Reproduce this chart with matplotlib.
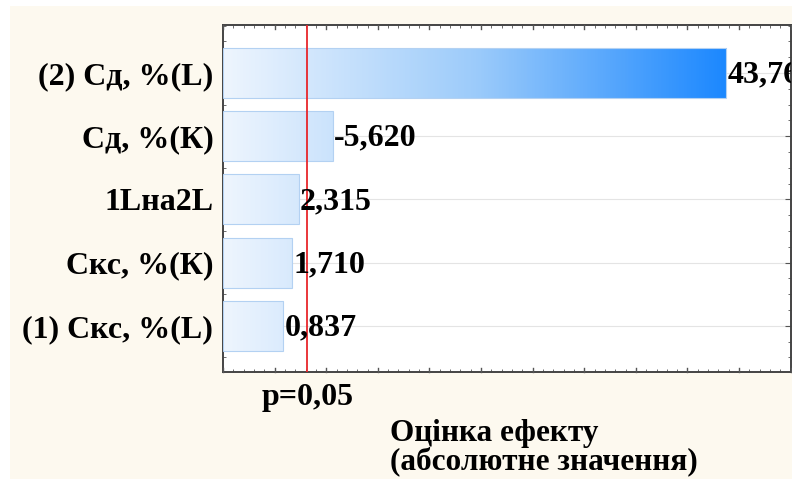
import numpy as np
import matplotlib.pyplot as plt
from matplotlib.colors import LinearSegmentedColormap
from matplotlib.patches import Rectangle
from matplotlib.ticker import MultipleLocator, FixedLocator

# Pareto chart of effects (top to bottom)
factors = ['(2) Сд, %(L)', 'Сд, %(К)', '1Lна2L', 'Скс, %(К)', '(1) Скс, %(L)']
effects = [43.76, -5.620, 2.315, 1.710, 0.837]
t_crit = 3.182          # p=0,05
x_min, x_max = -5, 50

plt.rcParams['font.family'] = ['Liberation Serif', 'DejaVu Serif']
plt.rcParams['font.weight'] = 'bold'

fig = plt.figure(figsize=(7.92, 4.79), dpi=100, facecolor='white')
fig.patches.append(Rectangle((10/792, 0), 1, 1 - 6/479, transform=fig.transFigure,
                             facecolor='#fdf9ef', edgecolor='none', zorder=-10))

ax = fig.add_axes([223/792, 1 - 372/479, (790.7 - 223)/792, (372 - 25)/479])
ax.set_facecolor('white')

pos = np.arange(len(factors))
vals = np.abs(effects)
h = 0.79

cmap = LinearSegmentedColormap.from_list('fill', ['#eef5fe', '#9ccbfa', '#1a87ff'])
grad = np.linspace(x_min, x_max, 512).reshape(1, -1)

bars = ax.barh(pos, vals - x_min, left=x_min, height=h, facecolor='none',
               edgecolor='#b3d1f2', linewidth=0.8, zorder=3)
for b in bars:
    im = ax.imshow(grad, cmap=cmap, vmin=x_min, vmax=44, aspect='auto',
                   extent=(x_min, x_max, b.get_y() + h, b.get_y()), zorder=2)
    im.set_clip_path(b)

for p, v, e in zip(pos, vals, effects):
    ax.annotate(f'{e:.3f}'.replace('.', ','), (v, p), xytext=(1, -1.5),
                textcoords='offset points', ha='left', va='center',
                fontsize=23, fontweight='bold', zorder=5, clip_on=True)

ax.axvline(t_crit, color='#e8262b', linewidth=1.3, zorder=4)

ax.set_xlim(x_min, x_max)
ax.set_ylim(4.73, -0.76)

ax.set_yticks(pos)
ax.set_yticklabels(factors, fontsize=23, fontweight='bold')
ax.yaxis.set_minor_locator(MultipleLocator(0.25))
ax.xaxis.set_major_locator(FixedLocator([t_crit]))
ax.set_xticklabels(['p=0,05'], fontsize=23, fontweight='bold')
ax.xaxis.set_minor_locator(FixedLocator(np.arange(x_min, x_max + 0.5, 1)))

# longer marks every 5 units on the x axis
for xv in np.arange(x_min, x_max + 1, 5):
    ax.plot([xv, xv], [0, 0.012], transform=ax.get_xaxis_transform(),
            color='#555555', linewidth=1, clip_on=False, zorder=6)
    ax.plot([xv, xv], [1, 0.988], transform=ax.get_xaxis_transform(),
            color='#555555', linewidth=1, clip_on=False, zorder=6)

ax.tick_params(which='both', direction='in', top=True, right=True, color='#555555')
ax.tick_params(axis='x', which='major', length=0, pad=8)
ax.tick_params(axis='x', which='minor', length=2.5)
ax.tick_params(axis='y', which='major', length=4, pad=7)
ax.tick_params(axis='y', which='minor', length=2.5)

ax.grid(axis='y', which='major', color='#e4e4e4', linewidth=0.8, zorder=0)
ax.set_axisbelow(True)

for s in ax.spines.values():
    s.set_color('#444444')
    s.set_linewidth(1.4)

fig.text(390/792, 1 - 419/479, 'Оцінка ефекту\n(абсолютне значення)',
         ha='left', va='top', fontsize=22.5, fontweight='bold',
         multialignment='left', linespacing=0.95)

fig.savefig('out.png', dpi=100)
